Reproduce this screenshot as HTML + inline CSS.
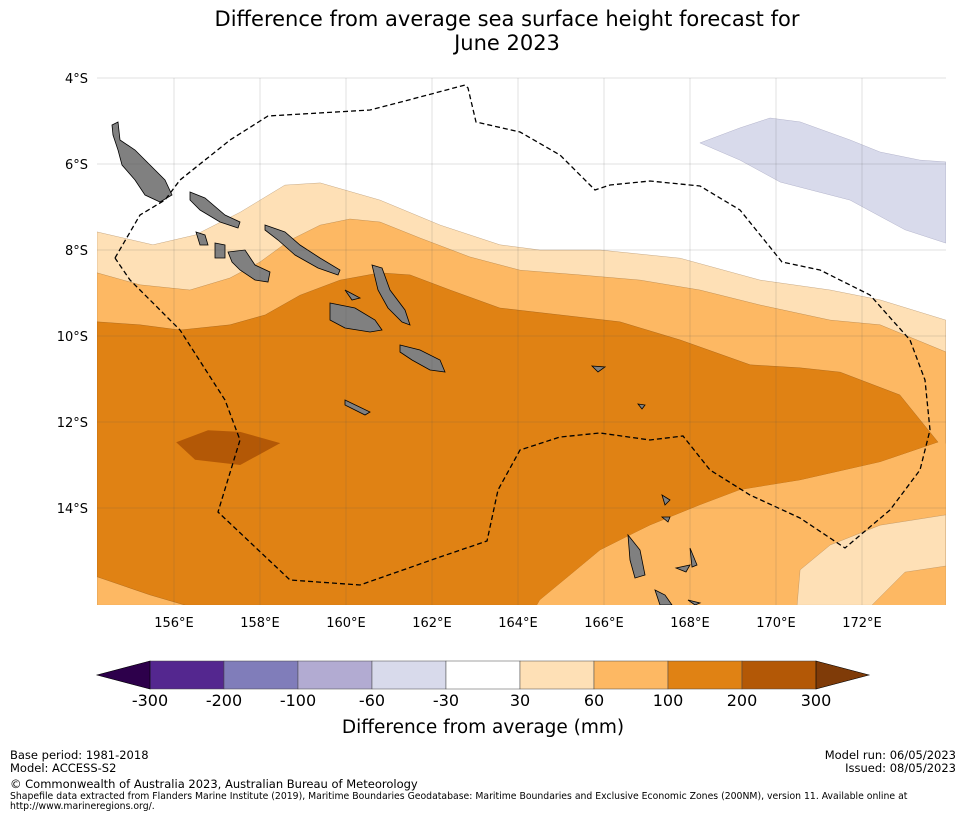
<!DOCTYPE html>
<html><head><meta charset="utf-8">
<style>
body{margin:0;background:#fff;font-family:"Liberation Sans","DejaVu Sans",sans-serif;}
svg text{font-family:"DejaVu Sans","Liberation Sans",sans-serif;}
</style></head>
<body>
<svg id="chart" width="965" height="816" viewBox="0 0 965 816">
<rect width="965" height="816" fill="#fff"/>
<text x="507" y="26" font-size="21" text-anchor="middle">Difference from average sea surface height forecast for</text>
<text x="507" y="50" font-size="21" text-anchor="middle">June 2023</text>
<defs><clipPath id="mapclip"><rect x="97" y="78" width="849" height="527"/></clipPath></defs>
<g id="map" clip-path="url(#mapclip)"></g>
<g id="overlay"></g>
<g id="cbar"></g>
<text x="483" y="733" font-size="18.5" text-anchor="middle">Difference from average (mm)</text>
<g font-size="11.5">
<text x="10" y="759">Base period: 1981-2018</text>
<text x="10" y="772">Model: ACCESS-S2</text>
<text x="10" y="788">© Commonwealth of Australia 2023, Australian Bureau of Meteorology</text>
<text x="10" y="799" font-size="9.3">Shapefile data extracted from Flanders Marine Institute (2019), Maritime Boundaries Geodatabase: Maritime Boundaries and Exclusive Economic Zones (200NM), version 11. Available online at</text>
<text x="10" y="809" font-size="9.3">http://www.marineregions.org/.</text>
</g>
<g font-size="11.5" text-anchor="end">
<text x="956" y="759">Model run: 06/05/2023</text>
<text x="956" y="772">Issued: 08/05/2023</text>
</g>
</svg>
<script>
// Axis ticks
const lonTicks = [156,158,160,162,164,166,168,170,172];
const latTicks = [4,6,8,10,12,14];
// Colorbar levels and colours
const levels = [-300,-200,-100,-60,-30,30,60,100,200,300];
const levelColors = ['#54278f','#807dba','#b2abd2','#d8daeb','#ffffff','#fee0b6','#fdb863','#e08214','#b35806'];
const extColors = ['#2d004b','#7f3b08'];
// Contour regions as [lon, lat(°S)] pairs
const light3060 = [[154.21,7.58],[155.51,7.88],[156.49,7.65],[157.54,7.12],[158.58,6.49],[159.40,6.44],[160.79,6.84],[162.19,7.42],[163.58,7.88],[164.51,8.0],[165.91,8.0],[167.77,8.19],[169.63,8.70],[171.26,8.93],[172.42,9.16],[173.95,9.63],[173.95,16.26],[154.21,16.26]];
const mid60100 = [[154.21,8.53],[155.21,8.81],[156.37,8.93],[157.30,8.65],[158.0,8.28],[158.70,7.77],[159.40,7.42],[160.09,7.28],[160.79,7.35],[161.72,7.72],[162.88,8.16],[164.05,8.47],[165.44,8.58],[166.84,8.70],[168.23,8.93],[169.63,9.28],[171.26,9.63],[172.42,9.74],[173.95,10.37],[173.95,16.26],[154.21,16.26]];
const dark100200 = [[154.21,9.67],[155.21,9.74],[156.14,9.86],[157.30,9.74],[158.12,9.51],[158.93,9.05],[159.86,8.70],[160.79,8.53],[161.49,8.58],[162.42,8.93],[163.58,9.35],[164.98,9.51],[166.37,9.67],[167.77,10.09],[169.40,10.67],[170.56,10.74],[171.49,10.84],[172.88,11.37],[173.77,12.47],[172.42,12.93],[170.56,13.35],[169.16,13.58],[168.23,13.93],[167.07,14.40],[165.91,14.98],[165.21,15.56],[164.51,16.14],[164.44,16.26],[156.26,16.26],[155.44,16.02],[154.21,15.6]];
const lightBR = [[173.95,14.16],[172.42,14.40],[171.26,14.86],[170.56,15.44],[170.49,16.26],[172.23,16.26],[173.0,15.49],[173.95,15.35]];
const brown200300 = [[156.05,12.47],[156.79,12.19],[157.54,12.23],[158.47,12.49],[157.54,13.0],[156.49,12.88]];
const purple3060 = [[168.23,5.51],[169.16,5.16],[169.86,4.93],[170.56,5.02],[171.72,5.44],[172.42,5.72],[173.35,5.91],[173.95,5.95],[173.95,7.84],[173.0,7.53],[171.72,6.84],[170.1,6.42],[169.16,5.91]];

const x = lon => 174 + (lon-156)*43;
const y = lat => 78 + (lat-4)*43;
const NS='http://www.w3.org/2000/svg';
const map=document.getElementById('map'), ov=document.getElementById('overlay'), cb=document.getElementById('cbar');
function poly(parent, pts, fill, stroke, sw, name){
  const p=document.createElementNS(NS,'polygon');
  p.setAttribute('points', pts.map(d=>x(d[0]).toFixed(1)+','+y(d[1]).toFixed(1)).join(' '));
  p.setAttribute('fill', fill);
  if(stroke){p.setAttribute('stroke',stroke);p.setAttribute('stroke-width',sw);}
  
  
  parent.appendChild(p); return p;
}
poly(map, light3060, levelColors[5], '#a07a50', 0.3, 'contour-30-60');
poly(map, mid60100, levelColors[6], '#9a6a30', 0.3, 'contour-60-100');
poly(map, dark100200, levelColors[7], '#8a5010', 0.3, 'contour-100-200');
poly(map, [[164.44,16.26],[164.51,16.14],[165.21,15.56],[165.91,14.98],[167.07,14.40],[168.23,13.93],[169.16,13.58],[170.56,13.35],[172.42,12.93],[173.77,12.47],[173.95,12.5],[173.95,16.26]], levelColors[6], null, 0, 'contour-60-100-south');
poly(map, lightBR, levelColors[5], '#a07a50', 0.3, 'contour-30-60-south');
poly(map, brown200300, levelColors[8], null, 0, 'contour-200-300');
poly(map, purple3060, levelColors[3], '#9090b0', 0.3, 'contour-neg60-neg30');

// islands (pixel geometry of coastline)
const islands = [
 [[112,125],[118,122],[120,140],[135,150],[150,165],[165,180],[172,195],[160,202],[145,195],[135,180],[122,165],[118,150],[113,135]],
 [[190,192],[205,198],[225,215],[240,222],[238,228],[220,222],[200,210],[190,200]],
 [[265,225],[285,232],[300,245],[320,258],[340,270],[338,275],[318,268],[295,255],[278,240],[265,230]],
 [[196,232],[205,235],[208,245],[200,245]],
 [[215,243],[225,245],[225,258],[215,258]],
 [[228,252],[245,250],[255,265],[270,272],[268,282],[255,280],[240,270],[232,262]],
 [[372,265],[382,268],[390,290],[405,310],[410,325],[402,322],[388,308],[378,290]],
 [[330,303],[355,308],[375,320],[382,330],[370,332],[345,328],[330,320]],
 [[400,345],[420,350],[440,360],[445,372],[430,370],[412,360],[400,352]],
 [[345,290],[360,298],[352,300]],
 [[345,400],[370,412],[365,415],[345,405]],
 [[628,535],[640,550],[645,575],[635,578],[630,560]],
 [[690,548],[697,565],[692,567]],
 [[676,568],[690,565],[686,572]],
 [[655,590],[665,595],[672,605],[660,605]],
 [[688,600],[700,603],[695,605]],
 [[662,495],[670,500],[665,505]],
 [[662,517],[670,517],[668,522]],
 [[592,366],[605,367],[598,372]],
 [[638,404],[645,405],[642,409]]
];
islands.forEach((pts,i)=>{
  const p=document.createElementNS(NS,'polygon');
  p.setAttribute('points', pts.map(d=>d.join(',')).join(' '));
  p.setAttribute('fill','#808080');p.setAttribute('stroke','#000');p.setAttribute('stroke-width','0.8');
  
  
  map.appendChild(p);
});
// EEZ boundary
const eez=[[115,258],[140,215],[165,200],[180,180],[230,140],[268,116],[370,110],[420,97],[465,85],[468,88],[476,122],[520,132],[560,155],[595,190],[610,185],[650,181],[700,186],[740,210],[782,262],[820,270],[870,295],[910,340],[925,380],[930,430],[920,470],[890,510],[845,548],[800,518],[750,495],[710,470],[683,436],[650,440],[600,433],[560,437],[520,450],[498,490],[487,541],[440,557],[360,585],[290,580],[218,512],[240,440],[225,400],[180,330],[130,280],[115,258]];
const ez=document.createElementNS(NS,'polyline');
ez.setAttribute('points', eez.map(d=>d.join(',')).join(' '));
ez.setAttribute('fill','none');ez.setAttribute('stroke','#000');ez.setAttribute('stroke-width','1.3');ez.setAttribute('stroke-dasharray','5,3');


map.appendChild(ez);
// gridlines + labels
lonTicks.forEach(l=>{
  const g=document.createElementNS(NS,'line');
  g.setAttribute('x1',x(l));g.setAttribute('x2',x(l));g.setAttribute('y1',78);g.setAttribute('y2',605);
  g.setAttribute('stroke','rgba(80,80,80,0.35)');g.setAttribute('stroke-width','0.5');
  
  
  ov.appendChild(g);
  const t=document.createElementNS(NS,'text');
  t.setAttribute('x',x(l));t.setAttribute('y',627);t.setAttribute('font-size','13');t.setAttribute('text-anchor','middle');
  t.textContent=l+'°E';
  
  
  ov.appendChild(t);
});
latTicks.forEach(l=>{
  const g=document.createElementNS(NS,'line');
  g.setAttribute('x1',97);g.setAttribute('x2',946);g.setAttribute('y1',y(l));g.setAttribute('y2',y(l));
  g.setAttribute('stroke','rgba(80,80,80,0.35)');g.setAttribute('stroke-width','0.5');
  
  
  ov.appendChild(g);
  const t=document.createElementNS(NS,'text');
  t.setAttribute('x',88);t.setAttribute('y',y(l)+5);t.setAttribute('font-size','13');t.setAttribute('text-anchor','end');
  t.textContent=l+'°S';
  
  
  ov.appendChild(t);
});
// colorbar
const cbx = i => 150 + i*74;
const cy0=661, cy1=689;
levelColors.forEach((c,i)=>{
  const r=document.createElementNS(NS,'rect');
  r.setAttribute('x',cbx(i));r.setAttribute('y',cy0);r.setAttribute('width',74);r.setAttribute('height',cy1-cy0);
  r.setAttribute('fill',c);r.setAttribute('stroke','#444');r.setAttribute('stroke-width','0.5');
  
  
  cb.appendChild(r);
});
[[cbx(0),97,extColors[0],'colorbar-min-extension'],[cbx(levels.length-1),869,extColors[1],'colorbar-max-extension']].forEach(e=>{
  const p=document.createElementNS(NS,'polygon');
  p.setAttribute('points',`${e[0]},${cy0} ${e[1]},${(cy0+cy1)/2} ${e[0]},${cy1}`);
  p.setAttribute('fill',e[2]);p.setAttribute('stroke','#000');p.setAttribute('stroke-width','0.6');
  
  
  cb.appendChild(p);
});
levels.forEach((v,i)=>{
  const t=document.createElementNS(NS,'text');
  t.setAttribute('x',cbx(i));t.setAttribute('y',706);t.setAttribute('font-size','16');t.setAttribute('text-anchor','middle');
  t.textContent=v;
  
  
  cb.appendChild(t);
});
</script>
</body></html>
